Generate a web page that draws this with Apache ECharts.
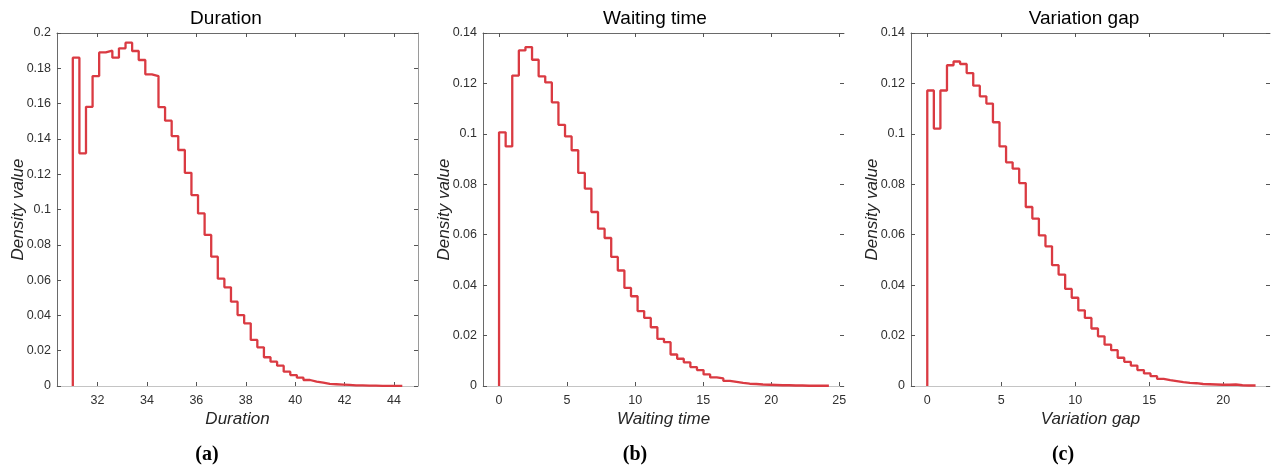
<!DOCTYPE html>
<html>
<head>
<meta charset="utf-8">
<script src="https://cdn.jsdelivr.net/npm/echarts@6/dist/echarts.min.js"></script>
<style>
  html, body { margin: 0; padding: 0; background: #fff; }
  #chart { width: 1271px; height: 468px; }
</style>
</head>
<body>
<div id="chart"></div>
<script>
// Histogram densities (50 equal-width bins each)
const durationStart = 31.0;
const durationWidth = 0.2667;
const durationDensity = [
  0.186, 0.1318, 0.1582, 0.1756, 0.189, 0.190, 0.186, 0.1913, 0.1945, 0.1898,
  0.1847, 0.1766, 0.1756, 0.158, 0.1503, 0.1416, 0.1337, 0.1208, 0.1082, 0.0978,
  0.0856, 0.0733, 0.0608, 0.0559, 0.0478, 0.0402, 0.0355, 0.0261, 0.0219, 0.0163,
  0.0138, 0.0115, 0.0081, 0.0062, 0.0047, 0.0034, 0.0025, 0.0019, 0.0012, 0.0010,
  0.0008, 0.0006, 0.0004, 0.0003, 0.0002, 0.0002, 0.0001, 0.0001, 0.0001, 0.0001
];

const waitingStart = 0;
const waitingWidth = 0.4848;
const waitingDensity = [
  0.1006, 0.0950, 0.1231, 0.1331, 0.1344, 0.1294, 0.1228, 0.1204, 0.1125, 0.1036,
  0.0990, 0.0935, 0.0845, 0.0783, 0.0690, 0.0624, 0.0587, 0.0512, 0.0458, 0.0389,
  0.0356, 0.0297, 0.0270, 0.0233, 0.0187, 0.0174, 0.0125, 0.0108, 0.0094, 0.0075,
  0.0063, 0.0046, 0.0034, 0.0030, 0.0020, 0.0016, 0.0012, 0.0009, 0.0008, 0.0006,
  0.0005, 0.0004, 0.0003, 0.0003, 0.0002, 0.0002, 0.0001, 0.0001, 0.0001, 0.0001
];

const gapStart = 0;
const gapWidth = 0.4437;
const gapDensity = [
  0.1172, 0.1021, 0.1172, 0.1272, 0.1287, 0.1277, 0.1241, 0.1191, 0.1149, 0.1120,
  0.1046, 0.0950, 0.0887, 0.0862, 0.0805, 0.0710, 0.0664, 0.0597, 0.0554, 0.0479,
  0.0442, 0.0385, 0.0350, 0.0300, 0.0270, 0.0228, 0.0197, 0.0164, 0.0142, 0.0112,
  0.0096, 0.0081, 0.0063, 0.0050, 0.0039, 0.0028, 0.0023, 0.0019, 0.0015, 0.0012,
  0.0011, 0.0008, 0.0007, 0.0006, 0.0005, 0.0005, 0.0006, 0.0003, 0.0002, 0.0002
];

// Axis tick labels
const durationTicks = [32, 34, 36, 38, 40, 42, 44];
const waitingTicks = [0, 5, 10, 15, 20, 25];
const gapTicks = [0, 5, 10, 15, 20];

const panels = [
  { title: 'Duration', xName: 'Duration', tag: '(a)', start: durationStart, width: durationWidth,
    values: durationDensity, ticks: durationTicks, xMin: 30.36, xMax: 44.97, yMax: 0.2,
    grid: { left: 57, top: 33, width: 361, height: 353 }, titleX: 226, tagX: 207, rightLine: true },
  { title: 'Waiting time', xName: 'Waiting time', tag: '(b)', start: waitingStart, width: waitingWidth,
    values: waitingDensity, ticks: waitingTicks, xMin: -1.18, xMax: 25.35, yMax: 0.14,
    grid: { left: 483, top: 33, width: 361, height: 353 }, titleX: 655, tagX: 635, rightLine: false },
  { title: 'Variation gap', xName: 'Variation gap', tag: '(c)', start: gapStart, width: gapWidth,
    values: gapDensity, ticks: gapTicks, xMin: -1.10, xMax: 23.16, yMax: 0.14,
    grid: { left: 911, top: 33, width: 359, height: 353 }, titleX: 1084, tagX: 1063, rightLine: false }
];

// Outline of a histogram as stair-step points
function stairs(start, width, values) {
  const pts = [[start, 0]];
  values.forEach((v, i) => pts.push([start + i * width, v]));
  pts.push([start + values.length * width, values[values.length - 1]]);
  return pts;
}

const FONT = '"Liberation Sans", Arial, Helvetica, sans-serif';
const AXIS_DARK = '#6a6a6a';
const AXIS_LIGHT = '#c4c4c4';
const LABEL = '#303030';

const grid = [], xAxis = [], yAxis = [], series = [], graphic = [];

panels.forEach((p, k) => {
  grid.push(Object.assign({ containLabel: false }, p.grid));

  // bottom axis with labels
  xAxis.push({
    type: 'value', gridIndex: k, position: 'bottom', min: p.xMin, max: p.xMax,
    name: p.xName, nameLocation: 'middle', nameGap: 25, nameMoveOverlap: false,
    nameTextStyle: { fontFamily: FONT, fontSize: 17, fontStyle: 'italic', color: '#262626' },
    axisLine: { show: true, onZero: false, lineStyle: { color: AXIS_LIGHT, width: 1 } },
    axisTick: { show: true, inside: true, length: 4, customValues: p.ticks, lineStyle: { color: '#555' } },
    axisLabel: { show: true, customValues: p.ticks, margin: 8, fontFamily: FONT, fontSize: 12.5, color: LABEL },
    splitLine: { show: false }
  });
  // top mirrored ticks
  xAxis.push({
    type: 'value', gridIndex: k, position: 'top', min: p.xMin, max: p.xMax,
    axisLine: { show: true, onZero: false, lineStyle: { color: AXIS_DARK, width: 1 } },
    axisTick: { show: true, inside: true, length: 4, customValues: p.ticks, lineStyle: { color: '#555' } },
    axisLabel: { show: false },
    splitLine: { show: false }
  });
  // left axis with labels
  yAxis.push({
    type: 'value', gridIndex: k, position: 'left', min: 0, max: p.yMax, interval: 0.02,
    name: 'Density value', nameLocation: 'middle', nameGap: 30, nameRotate: 90, nameMoveOverlap: false,
    nameTextStyle: { fontFamily: FONT, fontSize: 17, fontStyle: 'italic', color: '#262626' },
    axisLine: { show: true, onZero: false, lineStyle: { color: AXIS_DARK, width: 1 } },
    axisTick: { show: true, inside: true, length: 4, lineStyle: { color: '#555' } },
    axisLabel: { show: true, margin: 6, fontFamily: FONT, fontSize: 12.5, color: LABEL },
    splitLine: { show: false }
  });
  // right mirrored ticks
  yAxis.push({
    type: 'value', gridIndex: k, position: 'right', min: 0, max: p.yMax, interval: 0.02,
    axisLine: { show: p.rightLine, onZero: false, lineStyle: { color: '#9a9a9a', width: 1 } },
    axisTick: { show: true, inside: true, length: 4, lineStyle: { color: '#555' } },
    axisLabel: { show: false },
    splitLine: { show: false }
  });

  series.push({
    type: 'line', step: 'end', xAxisIndex: 2 * k, yAxisIndex: 2 * k,
    data: stairs(p.start, p.width, p.values),
    showSymbol: false, symbol: 'none', silent: true,
    lineStyle: { color: '#da3a42', width: 2.3 }
  });

  graphic.push({
    type: 'text', x: p.titleX, y: 19,
    style: { text: p.title, font: '19px ' + FONT, fill: '#000', align: 'center', verticalAlign: 'middle' }
  });
  graphic.push({
    type: 'text', x: p.tagX, y: 455,
    style: { text: p.tag, font: 'bold 20px "Liberation Serif", "Times New Roman", serif', fill: '#000', align: 'center', verticalAlign: 'middle' }
  });
});

const chart = echarts.init(document.getElementById('chart'), null, { renderer: 'canvas' });
chart.setOption({
  animation: false,
  backgroundColor: '#fff',
  grid, xAxis, yAxis, series, graphic
});
</script>
</body>
</html>
